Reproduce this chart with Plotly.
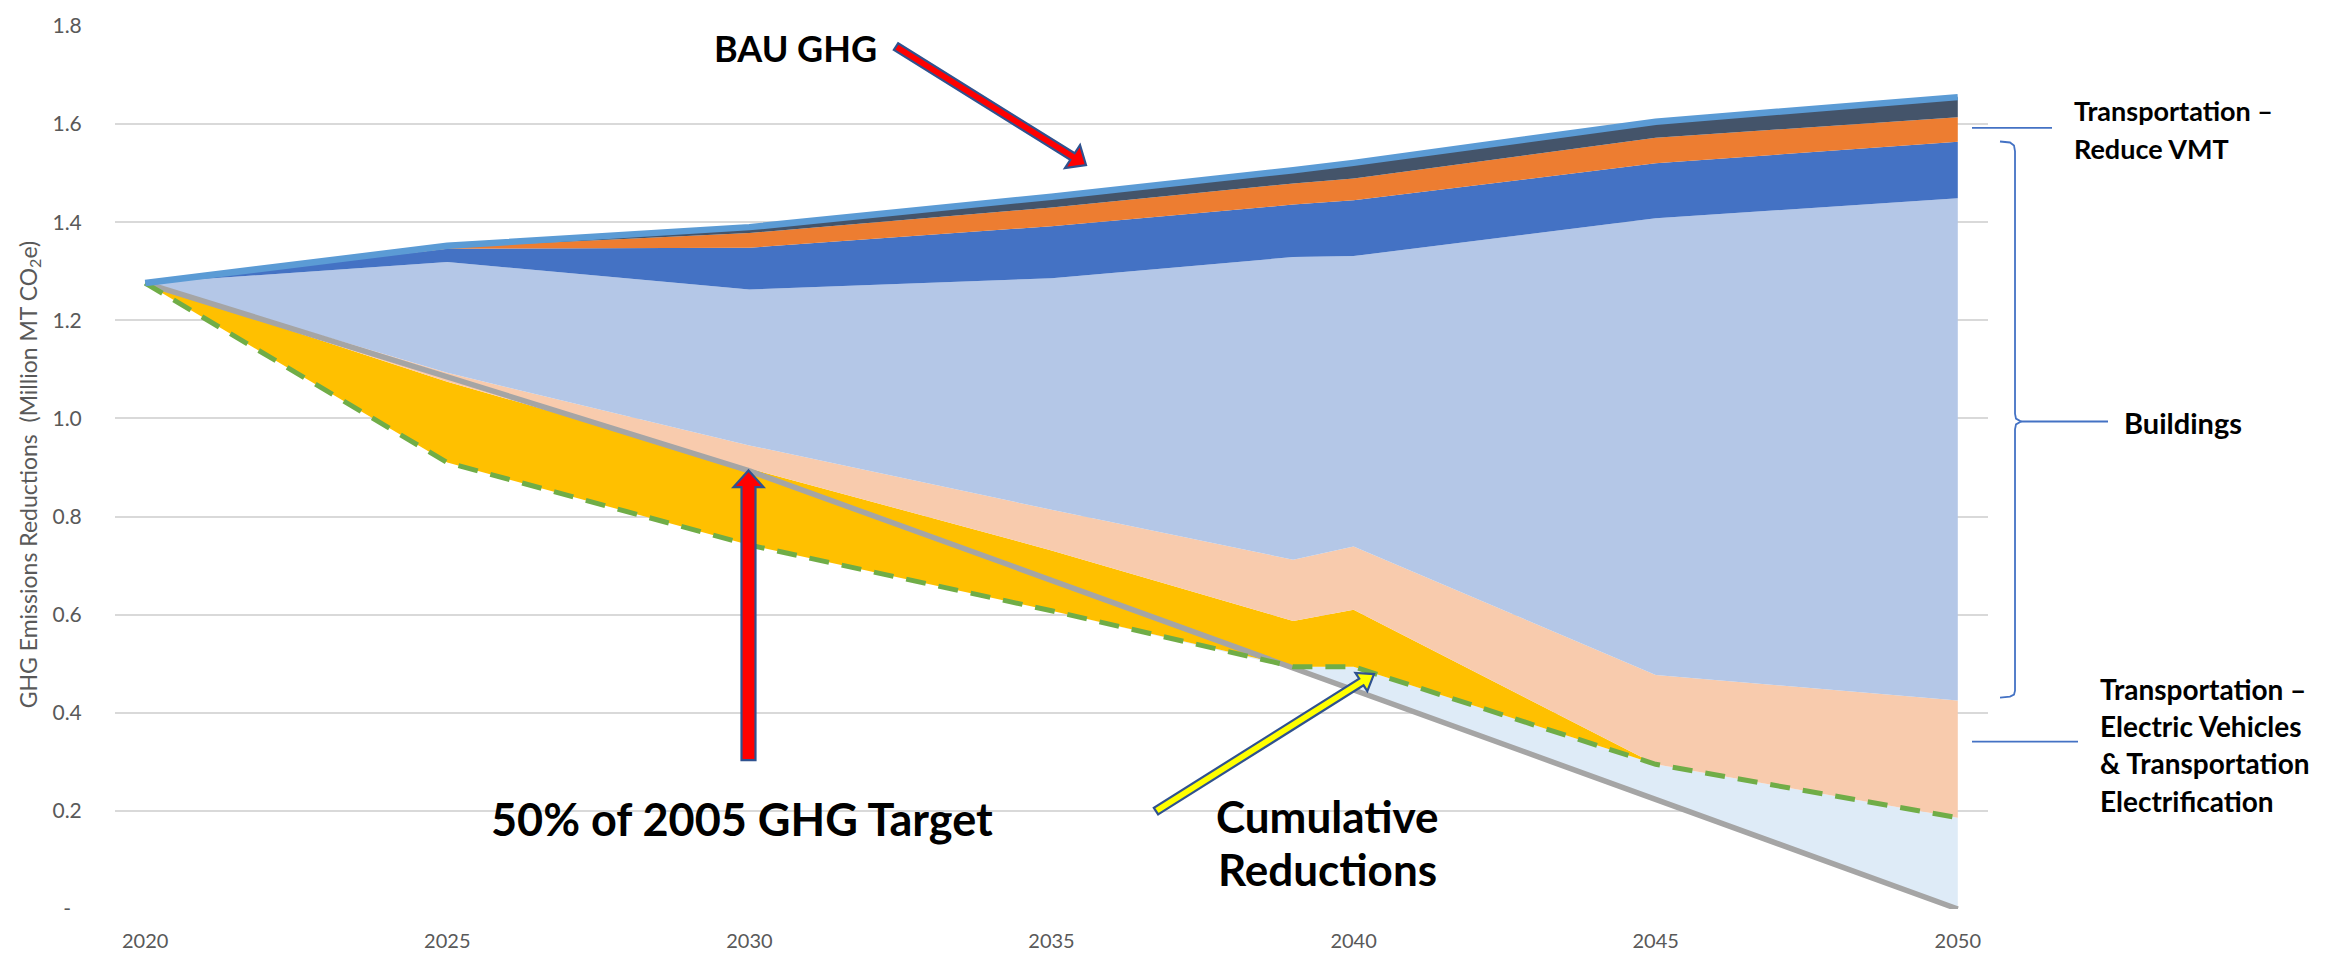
import numpy as np
import plotly.graph_objects as go

# ---------------- data ----------------
years = [2020, 2025, 2030, 2035, 2039, 2040, 2045, 2050]

bau_ghg       = [1.276, 1.352, 1.390, 1.452, 1.506, 1.521, 1.605, 1.655]
orange_top    = [1.276, 1.349, 1.378, 1.430, 1.479, 1.489, 1.572, 1.614]
blue_top      = [1.276, 1.346, 1.348, 1.392, 1.436, 1.445, 1.520, 1.564]
buildings_top = [1.276, 1.319, 1.263, 1.286, 1.329, 1.331, 1.408, 1.449]
peach_top     = [1.276, 1.093, 0.945, 0.814, 0.712, 0.739, 0.477, 0.425]
yellow_top    = [1.276, 1.075, 0.898, 0.731, 0.587, 0.610, 0.295, 0.186]
cumulative    = [1.276, 0.910, 0.742, 0.608, 0.494, 0.494, 0.295, 0.186]
target_50pct  = [1.276, 1.084, 0.893, 0.670, 0.491, 0.446, 0.223, 0.000]

y_tickvals = [0, 0.2, 0.4, 0.6, 0.8, 1.0, 1.2, 1.4, 1.6, 1.8]
y_ticktext = ["-\u00a0\u00a0", "0.2", "0.4", "0.6", "0.8", "1.0", "1.2", "1.4", "1.6", "1.8"]
x_tickvals = [2020, 2025, 2030, 2035, 2040, 2045, 2050]

# ---------------- geometry helpers ----------------
W, H = 2346, 964
L, R, T, B = 115, 1988, 18, 920   # plot box in pixels


def px(x):
    return (x - L) / (R - L)


def py(y):
    return (B - y) / (B - T)


def arrow_path(tail, tip, ws, wh, lh):
    t = np.array(tail, float)
    p = np.array(tip, float)
    u = (p - t) / np.linalg.norm(p - t)
    n = np.array([-u[1], u[0]])
    b = p - u * lh
    pts = [t + n * ws / 2, b + n * ws / 2, b + n * wh / 2, p,
           b - n * wh / 2, b - n * ws / 2, t - n * ws / 2]
    return "M " + " L ".join(f"{px(q[0]):.5f},{py(q[1]):.5f}" for q in pts) + " Z"


def line_path(pts):
    return "M " + " L ".join(f"{px(a):.5f},{py(b):.5f}" for a, b in pts)


FONT = "Lato, Carlito, 'Open Sans', sans-serif"
GRAY_TXT = "#595959"

fig = go.Figure()

# invisible lower bound of the light-blue band
lower = np.minimum(np.array(target_50pct), np.array(cumulative))
fig.add_trace(go.Scatter(x=years, y=lower, mode="lines", line=dict(width=0),
                         hoverinfo="skip", showlegend=False))

layers = [
    (cumulative, "#DEEBF7"),
    (yellow_top, "#FFC000"),
    (peach_top, "#F8CBAD"),
    (buildings_top, "#B4C7E7"),
    (blue_top, "#4472C4"),
    (orange_top, "#ED7D31"),
    (bau_ghg, "#44546A"),
]
for vals, col in layers:
    fig.add_trace(go.Scatter(x=years, y=vals, mode="lines",
                             line=dict(width=0, color=col),
                             fill="tonexty", fillcolor=col,
                             hoverinfo="skip", showlegend=False))

# lines
fig.add_trace(go.Scatter(x=years, y=target_50pct, mode="lines",
                         line=dict(color="#A5A5A5", width=5.5),
                         hoverinfo="skip", showlegend=False))
fig.add_trace(go.Scatter(x=years, y=cumulative, mode="lines",
                         line=dict(color="#70AD47", width=5, dash="20px,13px"),
                         hoverinfo="skip", showlegend=False))
fig.add_trace(go.Scatter(x=years, y=bau_ghg, mode="lines",
                         line=dict(color="#5B9BD5", width=6.5),
                         hoverinfo="skip", showlegend=False))

# ---------------- annotations ----------------
annotations = []


def ann(text, x, y, size, xanchor="center", color="black", bold=True, angle=0):
    annotations.append(dict(
        text=f"<b>{text}</b>" if bold else text,
        x=px(x), y=py(y), xref="paper", yref="paper",
        xanchor=xanchor, yanchor="middle", showarrow=False,
        textangle=angle,
        font=dict(family=FONT, size=size, color=color)))


ann("BAU GHG", 795, 40, 36)
ann("50% of 2005 GHG Target", 742, 828, 45)
ann("Cumulative", 1327, 825, 44)
ann("Reductions", 1327, 879, 44)
ann("Transportation \u2013", 2072, 104, 27, xanchor="left")
ann("Reduce VMT", 2072, 143, 27, xanchor="left")
ann("Buildings", 2122, 423, 29, xanchor="left")
ann("Transportation \u2013", 2098, 695, 28, xanchor="left")
ann("Electric Vehicles", 2098, 733, 28, xanchor="left")
ann("&amp; Transportation", 2098, 771, 28, xanchor="left")
ann("Electrification", 2098, 810, 28, xanchor="left")
ann("GHG Emissions Reductions \u00a0(Million MT CO<sub>2</sub>e)", 29, 476, 23,
    color=GRAY_TXT, bold=False, angle=-90)

# ---------------- shapes: block arrows and brackets ----------------
shapes = []
OUTLINE = "#2F528F"
shapes.append(dict(type="path", xref="paper", yref="paper",
                   path=arrow_path((896, 39), (1086, 160), 8, 28, 16),
                   fillcolor="#FF0000", line=dict(color=OUTLINE, width=2.2)))
shapes.append(dict(type="path", xref="paper", yref="paper",
                   path=arrow_path((748.5, 768), (748.5, 472), 14, 30, 17),
                   fillcolor="#FF0000", line=dict(color=OUTLINE, width=2.2)))
shapes.append(dict(type="path", xref="paper", yref="paper",
                   path=arrow_path((1156, 820), (1374, 680), 8, 22, 15),
                   fillcolor="#FFFF00", line=dict(color=OUTLINE, width=2.2)))

BR = "#4472C4"
shapes.append(dict(type="path", xref="paper", yref="paper",
                   path=line_path([(1972, 122), (2052, 122)]),
                   line=dict(color=BR, width=1.8)))
shapes.append(dict(type="path", xref="paper", yref="paper",
                   path=line_path([(2000, 136), (2010, 137), (2014, 140), (2015, 146),
                                   (2015, 414), (2016, 419), (2021, 422),
                                   (2016, 425), (2015, 430), (2015, 697),
                                   (2014, 701), (2010, 703), (2000, 704)]),
                   line=dict(color=BR, width=1.8)))
shapes.append(dict(type="path", xref="paper", yref="paper",
                   path=line_path([(2021, 422), (2108, 422)]),
                   line=dict(color=BR, width=1.8)))
shapes.append(dict(type="path", xref="paper", yref="paper",
                   path=line_path([(1972, 749), (2078, 749)]),
                   line=dict(color=BR, width=1.8)))

fig.update_layout(
    width=W, height=H, autosize=False,
    margin=dict(l=L, r=W - R, t=T, b=H - B, pad=0),
    paper_bgcolor="white", plot_bgcolor="white",
    showlegend=False,
    annotations=annotations,
    shapes=shapes,
    xaxis=dict(range=[2019.5, 2050.5], tickvals=x_tickvals,
               showgrid=False, zeroline=False, showline=False,
               ticks="outside", ticklen=14, tickcolor="rgba(0,0,0,0)",
               tickfont=dict(family=FONT, size=20, color=GRAY_TXT)),
    yaxis=dict(range=[0, 1.8], tickvals=y_tickvals, ticktext=y_ticktext,
               showgrid=True, gridcolor="#D9D9D9", gridwidth=1.6,
               zeroline=False, showline=False,
               ticks="outside", ticklen=28, tickcolor="rgba(0,0,0,0)",
               tickfont=dict(family=FONT, size=21, color=GRAY_TXT)),
)

fig.write_html("out.html", config={"displayModeBar": False},
               post_script="document.body.style.margin='0px';document.body.style.overflow='hidden';")
